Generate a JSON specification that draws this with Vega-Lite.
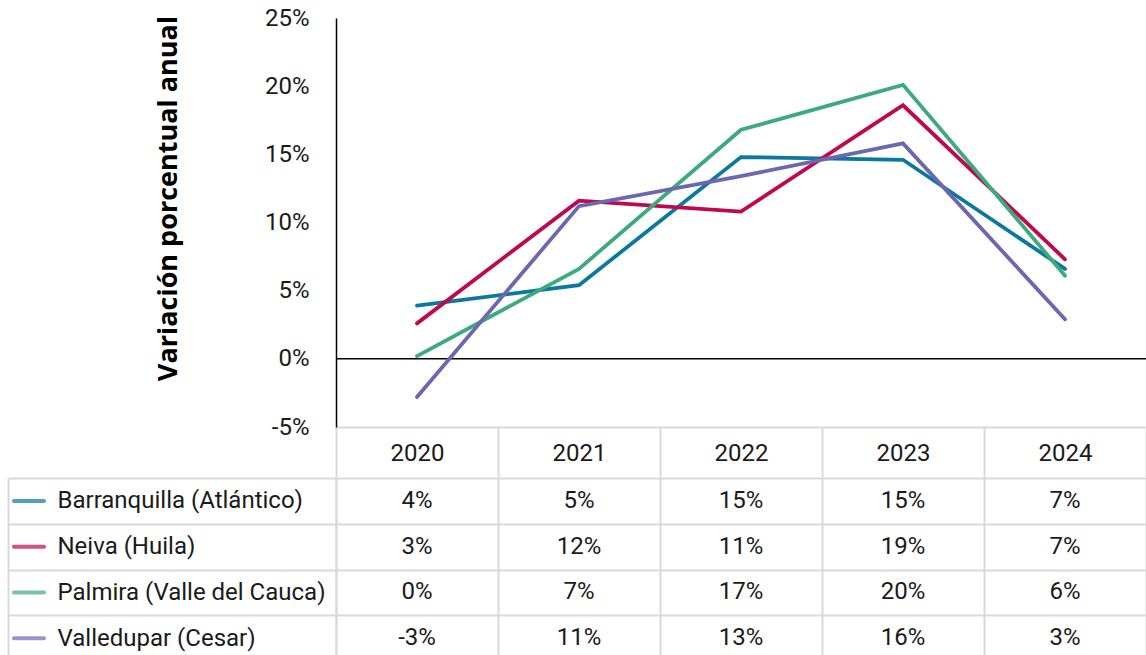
{
  "$schema": "https://vega.github.io/schema/vega-lite/v6.json",
  "padding": {"left": 7, "top": 6, "right": 0, "bottom": 0},
  "spacing": -13,
  "config": {"view": {"stroke": null}, "font": "Roboto"},
  "datasets": {
    "d": [
      {"s": "Barranquilla (Atlántico)", "year": "2020", "v": 3.9},
      {"s": "Barranquilla (Atlántico)", "year": "2021", "v": 5.4},
      {"s": "Barranquilla (Atlántico)", "year": "2022", "v": 14.8},
      {"s": "Barranquilla (Atlántico)", "year": "2023", "v": 14.6},
      {"s": "Barranquilla (Atlántico)", "year": "2024", "v": 6.6},
      {"s": "Neiva (Huila)", "year": "2020", "v": 2.6},
      {"s": "Neiva (Huila)", "year": "2021", "v": 11.6},
      {"s": "Neiva (Huila)", "year": "2022", "v": 10.8},
      {"s": "Neiva (Huila)", "year": "2023", "v": 18.6},
      {"s": "Neiva (Huila)", "year": "2024", "v": 7.3},
      {"s": "Palmira (Valle del Cauca)", "year": "2020", "v": 0.2},
      {"s": "Palmira (Valle del Cauca)", "year": "2021", "v": 6.6},
      {"s": "Palmira (Valle del Cauca)", "year": "2022", "v": 16.8},
      {"s": "Palmira (Valle del Cauca)", "year": "2023", "v": 20.1},
      {"s": "Palmira (Valle del Cauca)", "year": "2024", "v": 6.1},
      {"s": "Valledupar (Cesar)", "year": "2020", "v": -2.8},
      {"s": "Valledupar (Cesar)", "year": "2021", "v": 11.2},
      {"s": "Valledupar (Cesar)", "year": "2022", "v": 13.4},
      {"s": "Valledupar (Cesar)", "year": "2023", "v": 15.8},
      {"s": "Valledupar (Cesar)", "year": "2024", "v": 2.9}
    ]
  },
  "vconcat": [
    {
      "width": 810,
      "height": 409,
      "layer": [
        {
          "data": {"values": [{"z": 0}]},
          "mark": {"type": "rule", "color": "#000000", "strokeWidth": 1.5},
          "encoding": {
            "y": {"field": "z", "type": "quantitative", "scale": {"domain": [-5, 25], "nice": false, "zero": false}}
          }
        },
        {
          "data": {"name": "d"},
          "mark": {"type": "line", "strokeWidth": 3.8, "strokeCap": "round"},
          "encoding": {
            "x": {
              "field": "year", "type": "ordinal",
              "scale": {"domain": ["2020", "2021", "2022", "2023", "2024"], "paddingInner": 0, "paddingOuter": 0},
              "axis": {
                "orient": "bottom", "title": null, "grid": false,
                "domain": true, "domainColor": "#d9d9d9", "domainWidth": 2,
                "ticks": true, "tickBand": "extent", "tickSize": 50, "tickColor": "#d9d9d9", "tickWidth": 2,
                "labelFontSize": 24, "labelColor": "#1a1a1a", "labelAngle": 0, "labelBaseline": "middle", "labelPadding": -24,
                "minExtent": 0, "maxExtent": 50
              }
            },
            "y": {
              "field": "v", "type": "quantitative",
              "scale": {"domain": [-5, 25], "nice": false, "zero": false},
              "axis": {
                "values": [-5, 0, 5, 10, 15, 20, 25],
                "labelExpr": "datum.value + '%'",
                "grid": false, "ticks": false,
                "domain": true, "domainColor": "#000000", "domainWidth": 1.5,
                "labelFontSize": 24, "labelColor": "#1a1a1a", "labelPadding": 27,
                "title": "Variación porcentual anual",
                "titleFont": "Open Sans", "titleFontWeight": "bold", "titleFontSize": 27, "titleColor": "#000000",
                "titleBaseline": "alphabetic", "titleX": -160, "titleY": 180, "titleAngle": -90
              }
            },
            "color": {
              "field": "s", "type": "nominal",
              "scale": {
                "domain": ["Barranquilla (Atlántico)", "Neiva (Huila)", "Palmira (Valle del Cauca)", "Valledupar (Cesar)"],
                "range": ["#0b78a0", "#c0084e", "#3daa7d", "#6b67b0"]
              },
              "legend": null
            }
          }
        }
      ]
    },
    {
      "width": 810,
      "height": 183,
      "data": {"name": "d"},
      "resolve": {"axis": {"y": "independent"}},
      "layer": [
        {
          "transform": [{"calculate": "round(datum.v) + '%'", "as": "lab"}],
          "mark": {"type": "text", "fontSize": 24, "color": "#1a1a1a", "baseline": "middle"},
          "encoding": {
            "x": {
              "field": "year", "type": "ordinal",
              "scale": {"domain": ["2020", "2021", "2022", "2023", "2024"], "paddingInner": 0, "paddingOuter": 0},
              "axis": {"orient": "bottom", "labels": false, "ticks": false, "domain": false, "grid": true, "tickBand": "extent", "gridColor": "#d9d9d9", "gridWidth": 2, "title": null, "minExtent": 0, "maxExtent": 0}
            },
            "y": {
              "field": "s", "type": "nominal",
              "scale": {"domain": ["Barranquilla (Atlántico)", "Neiva (Huila)", "Palmira (Valle del Cauca)", "Valledupar (Cesar)"], "paddingInner": 0, "paddingOuter": 0},
              "axis": {
                "orient": "left", "title": null,
                "domain": true, "domainColor": "#d9d9d9", "domainWidth": 2,
                "ticks": true, "tickBand": "extent", "tickSize": 328, "tickColor": "#d9d9d9", "tickWidth": 2,
                "grid": true, "gridColor": "#d9d9d9", "gridWidth": 2,
                "labelAlign": "left", "labelBaseline": "middle", "labelPadding": -49, "labelFontSize": 24, "labelColor": "#1a1a1a", "labelLimit": 400
              }
            },
            "text": {"field": "lab"}
          }
        },
        {
          "transform": [{"filter": "datum.year == '2020'"}],
          "mark": {"type": "tick", "orient": "horizontal", "size": 34, "thickness": 4, "cornerRadius": 2, "xOffset": -388},
          "encoding": {
            "x": {"datum": "2020", "type": "ordinal"},
            "y": {"field": "s", "type": "nominal", "axis": {"orient": "left", "offset": 328, "labels": false, "ticks": false, "grid": false, "domain": true, "domainColor": "#d9d9d9", "domainWidth": 2, "title": null}},
            "color": {"field": "s", "type": "nominal", "legend": null}
          }
        }
      ]
    }
  ]
}
